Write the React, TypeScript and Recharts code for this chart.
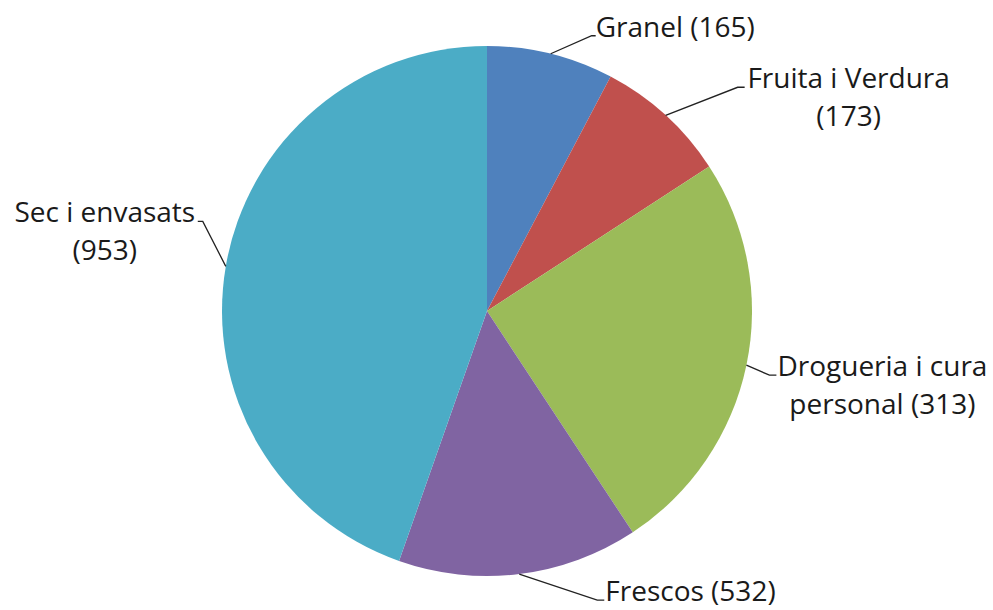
import { PieChart, Pie, Cell } from "recharts"

// categories and the numbers printed in the labels
const categories = ["Granel", "Fruita i Verdura", "Drogueria i cura personal", "Frescos", "Sec i envasats"]
const labelValues = [165, 173, 313, 532, 953]
// slice sizes as drawn (the original chart's third and fourth slices are swapped vs. their labels)
const sliceValues = [165, 173, 532, 313, 953]
const colors = ["#4F81BD", "#C0504D", "#9BBB59", "#8064A2", "#4BACC6"]

const data = categories.map((name, i) => ({ name, value: sliceValues[i], shown: labelValues[i] }))

// label layout: elbow offset from the slice edge, tail length, text anchor and how many words go on line 1
const labelLayout = [
  { ex: 41, ey: -18, tail: 4, anchor: "start", tx: 0, words: 99 },
  { ex: 72, ey: -28, tail: 7, anchor: "middle", tx: 104, words: 3 },
  { ex: 23, ey: 10, tail: 7, anchor: "middle", tx: 106, words: 3 },
  { ex: 78, ey: 26, tail: 7, anchor: "start", tx: 1, words: 99 },
  { ex: -23, ey: -45, tail: -5, anchor: "middle", tx: -93, words: 3 },
]

const RAD = Math.PI / 180
const FONT = "'Open Sans', sans-serif"

function renderLabel(props: any) {
  const { cx, cy, midAngle, outerRadius, index } = props
  const sx = cx + outerRadius * Math.cos(-midAngle * RAD)
  const sy = cy + outerRadius * Math.sin(-midAngle * RAD)
  const l = labelLayout[index]
  const mx = sx + l.ex
  const my = sy + l.ey
  const endX = mx + l.tail
  const words = `${data[index].name} (${data[index].shown})`.split(" ")
  const lines = [words.slice(0, l.words).join(" "), words.slice(l.words).join(" ")].filter(s => s)
  return (
    <g key={`lbl-${index}`}>
      <polyline
        points={`${sx},${sy} ${mx},${my} ${endX},${my}`}
        fill="none"
        stroke="#222"
        strokeWidth={1.3}
      />
      {lines.map((t, j) => (
        <text
          key={j}
          x={endX + l.tx}
          y={my + 1 + j * 38}
          textAnchor={l.anchor}
          fontFamily={FONT}
          fontSize={28}
          fill="#1a1a1a"
        >
          {t}
        </text>
      ))}
    </g>
  )
}

export default function App() {
  return (
    <div style={{ position: "absolute", left: 0, top: 0, width: 993, height: 610, background: "#fff" }}>
      <PieChart width={993} height={610} margin={{ top: 0, right: 0, bottom: 0, left: 0 }}>
        <Pie
          data={data}
          dataKey="value"
          cx={487}
          cy={311}
          outerRadius={265}
          startAngle={90}
          endAngle={-270}
          stroke="none"
          label={renderLabel}
          labelLine={false}
          isAnimationActive={false}
        >
          {data.map((entry, index) => (
            <Cell key={`cell-${index}`} fill={colors[index]} />
          ))}
        </Pie>
      </PieChart>
    </div>
  )
}
